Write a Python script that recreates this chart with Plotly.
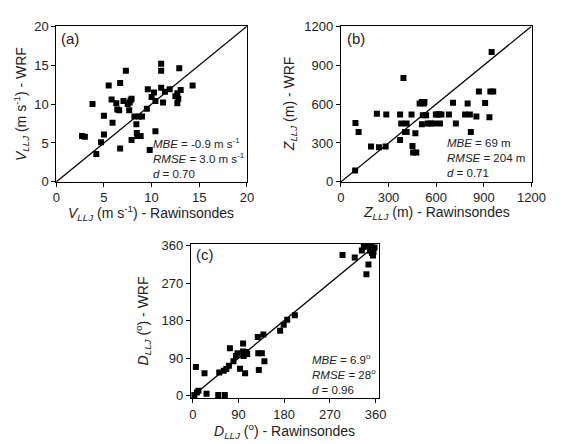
import plotly.graph_objects as go

W, H = 561, 444

# Panel (a): wind speed (m/s)
va_obs = [2.7, 3.0, 3.8, 4.2, 4.7, 5.0, 5.0, 5.5, 5.8, 5.9, 6.3, 6.4, 6.6, 6.7, 6.7, 7.05, 7.3, 7.5,
          7.65, 7.7, 7.8, 7.9, 7.9, 8.2, 8.4, 8.45, 8.5, 8.7, 8.85, 9.0, 9.5, 9.6, 9.8, 10.0, 10.25,
          10.4, 10.4, 11.0, 11.0, 11.0, 11.2, 11.4, 11.9, 12.5, 12.7, 12.7, 12.8, 12.9, 13.05, 14.3]
va_wrf = [5.9, 5.8, 10.0, 3.6, 5.1, 6.1, 8.5, 12.4, 10.6, 7.6, 10.1, 9.3, 9.2, 12.7, 4.3, 10.4, 14.3, 10.0,
          9.2, 10.2, 10.5, 10.7, 5.4, 8.4, 7.4, 6.3, 5.9, 8.4, 5.9, 8.4, 9.4, 11.9, 4.1, 10.9, 11.5,
          6.5, 10.4, 15.2, 14.3, 12.1, 10.2, 11.6, 11.9, 11.0, 11.4, 10.1, 10.7, 14.6, 11.8, 12.4]

# Panel (b): jet height (m)
zb_obs = [90, 92, 112, 190, 240, 282, 227, 286, 373, 373, 380, 394, 404, 414, 414, 445, 451, 455, 475,
          469, 496, 510, 522, 526, 510, 516, 537, 547, 567, 588, 598, 608, 618, 624, 633, 680, 706,
          724, 782, 798, 812, 818, 853, 869, 908, 935, 941, 959, 949]
zb_wrf = [87, 455, 385, 273, 268, 272, 525, 520, 520, 323, 450, 802, 385, 450, 385, 520, 276, 226, 226,
          375, 604, 616, 604, 616, 445, 514, 514, 450, 450, 450, 520, 520, 522, 450, 520, 520, 611,
          450, 520, 604, 520, 385, 504, 698, 608, 499, 698, 698, 1001]

# Panel (c): jet direction (deg)
dc_obs = [3, 8, 11, 6, 23, 27, 50, 52, 63, 61, 66, 71, 73, 80, 85, 88, 93, 99, 99, 100, 103, 105, 107,
          128, 129, 130, 136, 139, 141, 172, 179, 186, 201, 295, 319, 333, 337, 342, 347, 342, 346,
          349, 352, 353, 356, 358, 355, 350]
dc_wrf = [2, 8, 12, 69, 54, 5, 2, 56, 2, 60, 64, 72, 114, 83, 95, 102, 65, 125, 106, 95, 54, 105, 100,
          141, 102, 62, 102, 147, 83, 156, 170, 182, 193, 337, 331, 348, 357, 360, 360, 291, 314,
          348, 357, 341, 344, 355, 336, 348]

ticks_a = [0, 5, 10, 15, 20]
ticks_b = [0, 300, 600, 900, 1200]
ticks_c = [0, 90, 180, 270, 360]

FONT = "Liberation Sans, Arial, sans-serif"
TXT = "#222222"

fig = go.Figure()

def add_panel(xs, ys, line_max, xa, ya):
    fig.add_trace(go.Scatter(x=[0, line_max], y=[0, line_max], mode="lines",
                             line=dict(color="black", width=1.3), xaxis=xa, yaxis=ya,
                             showlegend=False, hoverinfo="skip"))
    fig.add_trace(go.Scatter(x=xs, y=ys, mode="markers",
                             marker=dict(symbol="square", size=6, color="black"),
                             xaxis=xa, yaxis=ya, showlegend=False))

add_panel(va_obs, va_wrf, 20, "x", "y")
add_panel(zb_obs, zb_wrf, 1200, "x2", "y2")
add_panel(dc_obs, dc_wrf, 360, "x3", "y3")

def ax(domain, rng, tickvals, anchor):
    return dict(domain=domain, range=rng, tickvals=tickvals, ticks="outside", ticklen=4,
                tickwidth=1, tickcolor="black", showline=True, linecolor="black", linewidth=1,
                mirror=True, showgrid=False, zeroline=False, anchor=anchor,
                tickfont=dict(family=FONT, size=13, color=TXT))

def px(x):
    return x / W

def py(y):
    return 1 - y / H

fig.update_layout(
    width=W, height=H, margin=dict(l=0, r=0, t=0, b=0),
    paper_bgcolor="white", plot_bgcolor="white",
    font=dict(family=FONT, color=TXT),
    xaxis=ax([px(54), px(251)], [0, 20], ticks_a, "y"),
    yaxis=ax([py(181), py(20)], [0, 20], ticks_a, "x"),
    xaxis2=ax([px(348), px(545)], [0, 1200], ticks_b, "y2"),
    yaxis2=ax([py(181), py(20)], [0, 1200], ticks_b, "x2"),
    xaxis3=ax([px(193), px(387)], [-4, 366], ticks_c, "y3"),
    yaxis3=ax([py(405), py(245)], [-6, 364], ticks_c, "x3"),
)

ann = []
def text(x, y, s, size=14, xanchor="center", yanchor="middle", angle=0, align="center"):
    ann.append(dict(x=px(x), y=py(y), xref="paper", yref="paper", text=s, showarrow=False,
                    xanchor=xanchor, yanchor=yanchor, textangle=angle, align=align,
                    font=dict(family=FONT, size=size, color=TXT)))

# panel labels
text(57, 33, "(a)", 15, xanchor="left")
text(352, 33, "(b)", 15, xanchor="left")
text(196, 256, "(c)", 15, xanchor="left")

# axis titles
text(152, 213, "<i>V</i><sub><i>LLJ</i></sub> (m s<sup>-1</sup>) - Rawinsondes", 14)
text(17, 100, "<i>V</i><sub><i>LLJ</i></sub> (m s<sup>-1</sup>) - WRF", 14, angle=-90)
text(447, 213, "<i>Z</i><sub><i>LLJ</i></sub> (m) - Rawinsondes", 14)
text(295, 100, "<i>Z</i><sub><i>LLJ</i></sub> (m) - WRF", 14, angle=-90)
text(290, 439, "<i>D</i><sub><i>LLJ</i></sub> (<sup>o</sup>) - Rawinsondes", 14)
text(144, 325, "<i>D</i><sub><i>LLJ</i></sub> (<sup>o</sup>) - WRF", 14, angle=-90)

# statistics
text(152, 156, "<i>MBE</i> = -0.9 m s<sup>-1</sup><br><i>RMSE</i> = 3.0 m s<sup>-1</sup><br><i>d</i> = 0.70",
     11.5, xanchor="left", align="left")
text(456, 156, "<i>MBE</i> = 69 m<br><i>RMSE</i> = 204 m<br><i>d</i> = 0.71",
     11.5, xanchor="left", align="left")
text(316, 380, "<i>MBE</i> = 6.9<sup>o</sup><br><i>RMSE</i> = 28<sup>o</sup><br><i>d</i> = 0.96",
     11.5, xanchor="left", align="left")

fig.update_layout(annotations=ann)
fig.write_html("out.html", config={"displayModeBar": False},
               post_script="document.body.style.margin='0px';document.body.style.overflow='hidden';")
